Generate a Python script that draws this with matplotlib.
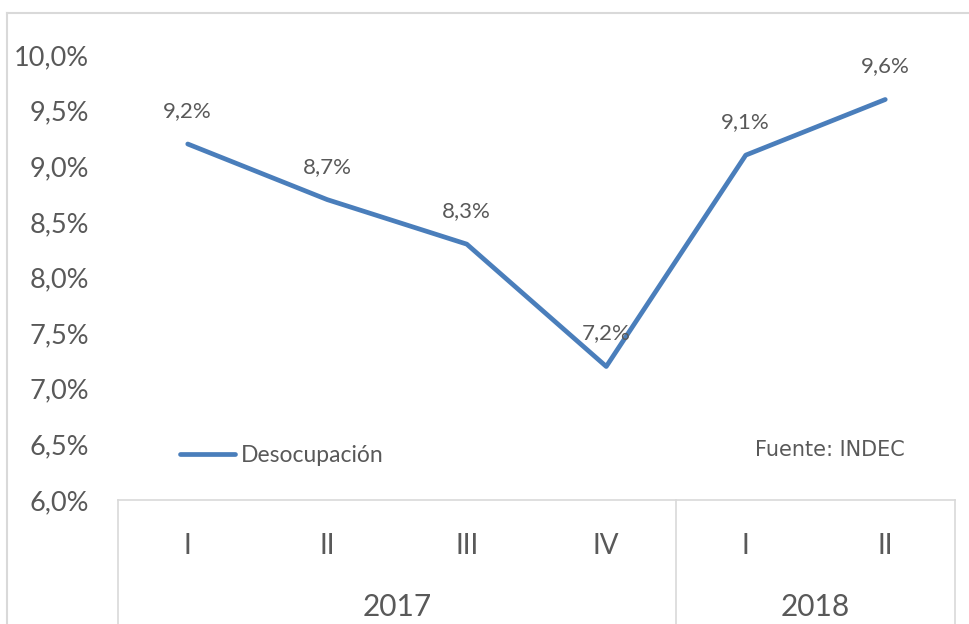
import matplotlib
matplotlib.use('Agg')
from matplotlib import pyplot as plt
from matplotlib.transforms import blended_transform_factory

plt.rcParams['font.family'] = ['Lato', 'DejaVu Sans']

# data
quarters = ['I', 'II', 'III', 'IV', 'I', 'II']
years = ['2017', '2018']
year_spans = [(0, 3), (4, 5)]
desocupacion = [9.2, 8.7, 8.3, 7.2, 9.1, 9.6]
yticks = [6.0, 6.5, 7.0, 7.5, 8.0, 8.5, 9.0, 9.5, 10.0]

W, H = 970, 624
text_col = '#595959'
grid_col = '#d9d9d9'
line_col = '#4a7ebb'

fig = plt.figure(figsize=(W / 100, H / 100), dpi=100)
ax = fig.add_axes([118 / W, 1 - 500 / H, (955 - 118) / W, (500 - 55) / H])

x = list(range(len(quarters)))
ax.plot(x, desocupacion, color=line_col, lw=3.4, solid_capstyle='round',
        solid_joinstyle='round', label='Desocupación')

for xi, v in zip(x, desocupacion):
    ax.annotate(('%.1f%%' % v).replace('.', ','), (xi, v), xytext=(0, 33),
                textcoords='offset pixels', ha='center', va='center',
                fontsize=16, color=text_col)

ax.set_xlim(-0.5, len(quarters) - 0.5)
ax.set_ylim(6.0, 10.0)
ax.set_yticks(yticks)
ax.set_yticklabels([('%.1f%%' % t).replace('.', ',') for t in yticks])
ax.set_xticks(x)
ax.set_xticklabels(quarters)
ax.tick_params(axis='y', length=0, pad=21, labelsize=19.5, labelcolor=text_col)
ax.tick_params(axis='x', length=0, pad=24, labelsize=20, labelcolor=text_col)
for s in ['left', 'right', 'top']:
    ax.spines[s].set_visible(False)
ax.spines['bottom'].set_color(grid_col)
ax.spines['bottom'].set_linewidth(1.2)

# category box below the plot
tr = blended_transform_factory(ax.transData, ax.transAxes)
for xv in [-0.5, 3.5, 5.5]:
    ax.plot([xv, xv], [0, -0.4], transform=tr, color=grid_col, lw=1.2,
            clip_on=False)
for name, (a, b) in zip(years, year_spans):
    ax.text((a + b) / 2, -0.24, name, transform=tr, ha='center',
            va='center', fontsize=21.5, color=text_col)

ax.legend(loc='upper left', bbox_to_anchor=(0.05, 0.171), frameon=False,
          fontsize=16.5, labelcolor=text_col, handlelength=2.4,
          handletextpad=0.25)
ax.text(0.94, 0.112, 'Fuente: INDEC', transform=ax.transAxes, ha='right',
        va='center', fontsize=15, color=text_col, family='DejaVu Sans')

# outer chart border (cropped)
fig.add_artist(plt.Line2D([7 / W, 7 / W], [0, 1 - 13 / H], color=grid_col,
                          lw=1.5, transform=fig.transFigure))
fig.add_artist(plt.Line2D([7 / W, 1], [1 - 13 / H, 1 - 13 / H], color=grid_col,
                          lw=1.5, transform=fig.transFigure))

fig.savefig('out.png', dpi=100)
